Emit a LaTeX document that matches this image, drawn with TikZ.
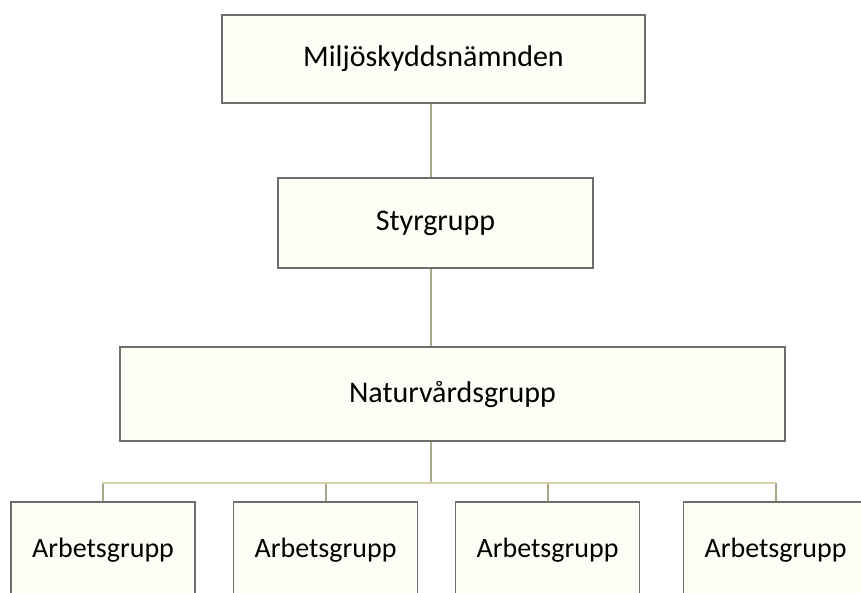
\documentclass[tikz,border=0pt]{standalone}
\usepackage{fontspec}
\setmainfont{Carlito}
\usetikzlibrary{calc}

\definecolor{boxline}{HTML}{6E6E6E}
\definecolor{boxfill}{HTML}{FEFEF6}
\definecolor{linkline}{HTML}{A8A78C}
\definecolor{barline}{HTML}{D6D2A8}

\begin{document}
\begin{tikzpicture}[x=1pt,y=-1pt]

        \useasboundingbox (0,0) rectangle (861,593);
        \clip (0,0) rectangle (861,593);

        \begin{scope}[every node/.style={rectangle, draw=boxline, line width=1.2pt,
            fill=boxfill, inner sep=0pt, font=\fontsize{30}{36}\selectfont}]
          \node[minimum width=423, minimum height=88] (1) at (433.5,59)  {Miljöskyddsnämnden};
          \node[minimum width=315, minimum height=90] (2) at (435.5,223) {Styrgrupp};
          \node[minimum width=665, minimum height=94] (3) at (452.5,394) {Naturvårdsgrupp};
        \end{scope}

        \begin{scope}[every node/.style={rectangle, draw=boxline, line width=1.2pt,
            fill=boxfill, inner sep=0pt, minimum width=184, minimum height=96,
            font=\fontsize{28}{34}\selectfont}]
          \node (4) at (103,550)   {Arbetsgrupp};
          \node (5) at (325.5,550) {Arbetsgrupp};
          \node (6) at (547.5,550) {Arbetsgrupp};
          \node (7) at (775.5,550) {Arbetsgrupp};
        \end{scope}

        \coordinate (b) at (431,483);

        \begin{scope}[line width=2pt, draw=linkline]
          \path (1.south -| b) edge (2.north -| b);
          \path (2.south -| b) edge (3.north -| b);
          \path (3.south -| b) edge (b);
          \path (b -| 4.north) edge (4.north);
          \path (b -| 5.north) edge (5.north);
          \path (b -| 6.north) edge (6.north);
          \path (b -| 7.north) edge (7.north);
        \end{scope}

        \draw[line width=2pt, barline] (b -| 4.north) -- (b -| 7.north);

      \end{tikzpicture}
\end{document}
